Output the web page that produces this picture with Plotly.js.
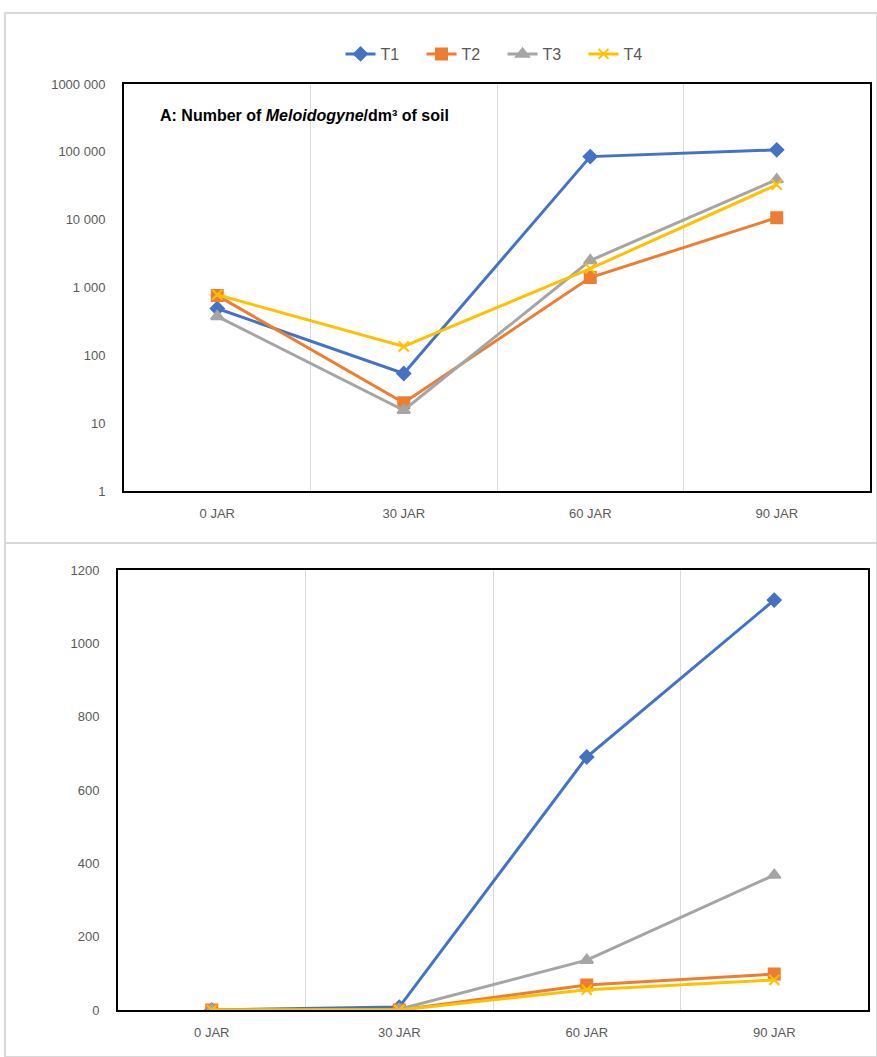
<!DOCTYPE html>
<html><head><meta charset="utf-8">
<script src="https://cdn.plot.ly/plotly-3.0.1.min.js"></script>
<style>html,body{margin:0;padding:0;background:#fff}#chart{width:877px;height:1057px}</style>
</head><body><div id="chart"></div>
<script>
const categories = ["0 JAR", "30 JAR", "60 JAR", "90 JAR"];
const seriesNames = ["T1", "T2", "T3", "T4"];
// Top panel: number of Meloidogyne / dm3 of soil (log scale)
const topT1 = [490, 54, 85000, 107000];
const topT2 = [760, 20, 1400, 10700];
const topT3 = [375, 15.5, 2500, 39000];
const topT4 = [780, 135, 1900, 32700];
// Bottom panel (linear)
const botT1 = [0, 8, 690, 1118];
const botT2 = [0, 0, 68, 98];
const botT3 = [0, 2, 136, 368];
const botT4 = [0, 0, 55, 82];
const topTickVals = [1, 10, 100, 1000, 10000, 100000, 1000000];
const topTickText = ["1", "10", "100", "1 000", "10 000", "100 000", "1000 000"];
const botTickVals = [0, 200, 400, 600, 800, 1000, 1200];

const colors = ["#4472C4", "#ED7D31", "#A5A5A5", "#FFC000"];
const symbols = ["diamond", "square", "triangle-up", "x-thin"];
const msizes = [10, 11, 11, 10];
const FONT = "'Liberation Sans Narrow', 'Liberation Sans', Arial, sans-serif";

const topData = [topT1, topT2, topT3, topT4];
const botData = [botT1, botT2, botT3, botT4];
const traces = [];
topData.forEach((d, i) => {
  traces.push({x: categories, y: d, name: seriesNames[i], type: "scatter", mode: "lines+markers",
    xaxis: "x", yaxis: "y", line: {color: colors[i], width: 3},
    marker: {symbol: symbols[i], size: msizes[i], color: colors[i], line: {color: colors[i], width: 2}},
    showlegend: true, hoverinfo: "skip"});
});
botData.forEach((d, i) => {
  traces.push({x: categories, y: d, name: seriesNames[i], type: "scatter", mode: "lines+markers",
    xaxis: "x2", yaxis: "y2", line: {color: colors[i], width: 3},
    marker: {symbol: symbols[i], size: msizes[i], color: colors[i], line: {color: colors[i], width: 2}},
    showlegend: false, hoverinfo: "skip"});
});

const H = 1057, W = 877;
const px = v => v / W, py = v => 1 - v / H;
const axisX = {type: "category", range: [-0.5, 3.5], tickson: "boundaries", showgrid: true,
  gridcolor: "#d9d9d9", gridwidth: 1, ticks: "", showline: true, linecolor: "#000", linewidth: 2, mirror: true,
  tickfont: {family: FONT, size: 13, color: "#595959"}, fixedrange: true, zeroline: false, ticklabelstandoff: 9};
const layout = {
  width: W, height: H, margin: {l: 0, r: 0, t: 0, b: 0}, paper_bgcolor: "#fff", plot_bgcolor: "#fff",
  font: {family: FONT},
  showlegend: true,
  legend: {orientation: "h", x: 0.573, xanchor: "center", y: py(54), yanchor: "middle",
    font: {family: FONT, size: 16, color: "#595959"}, entrywidth: 36, entrywidthmode: "pixels"},
  xaxis: Object.assign({}, axisX, {domain: [px(124), px(870)], anchor: "y"}),
  yaxis: {type: "log", domain: [py(491), py(84)], range: [0, 6], tickvals: topTickVals, ticktext: topTickText,
    showgrid: false, showline: true, linecolor: "#000", linewidth: 2, mirror: true, ticks: "",
    tickfont: {family: FONT, size: 13, color: "#595959"}, anchor: "x", ticklabelstandoff: 14, zeroline: false},
  xaxis2: Object.assign({}, axisX, {domain: [px(118), px(868)], anchor: "y2"}),
  yaxis2: {type: "linear", domain: [py(1010), py(570)], range: [0, 1200], tickvals: botTickVals,
    showgrid: false, showline: true, linecolor: "#000", linewidth: 2, mirror: true, ticks: "",
    tickfont: {family: FONT, size: 13, color: "#595959"}, anchor: "x2", ticklabelstandoff: 14, zeroline: false},
  annotations: [{xref: "paper", yref: "paper", x: px(158), y: py(115), xanchor: "left", yanchor: "middle",
    text: "<b>A: Number of <i>Meloidogyne</i>/dm³ of soil</b>", showarrow: false,
    font: {family: FONT, size: 16, color: "#000"}}],
  shapes: [
    {type: "rect", xref: "paper", yref: "paper", x0: px(5), x1: px(877), y0: py(543), y1: py(13),
      line: {color: "#d9d9d9", width: 2}, layer: "below"},
    {type: "rect", xref: "paper", yref: "paper", x0: px(5), x1: px(877), y0: py(1057), y1: py(543),
      line: {color: "#d9d9d9", width: 2}, layer: "below"}
  ]
};
Plotly.newPlot("chart", traces, layout, {staticPlot: true, displayModeBar: false});
</script></body></html>
